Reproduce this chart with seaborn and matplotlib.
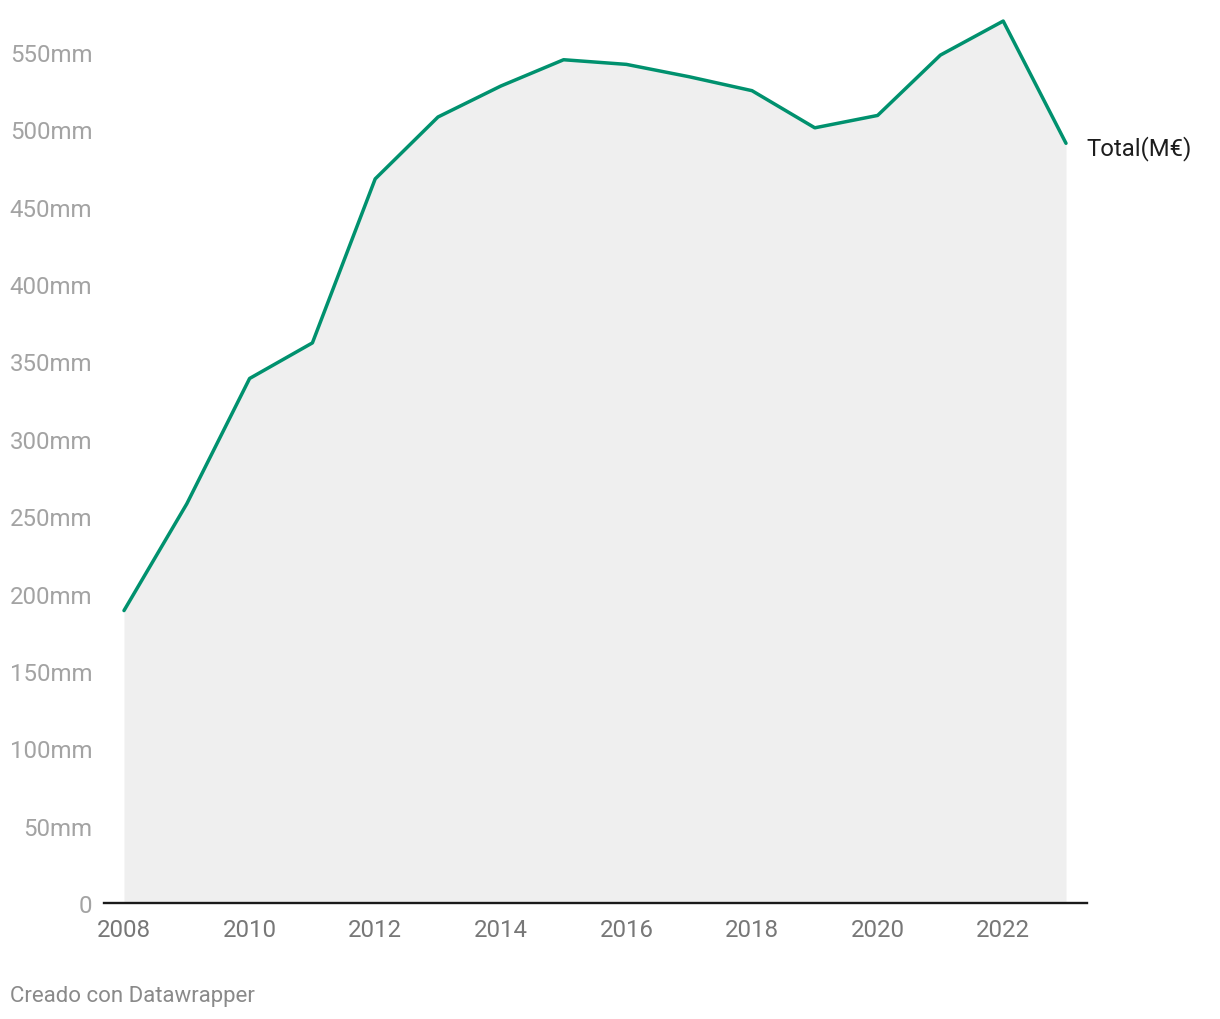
import matplotlib
matplotlib.use("Agg")
import matplotlib.pyplot as plt
import seaborn as sns
import pandas as pd

years = [2008, 2009, 2010, 2011, 2012, 2013, 2014, 2015, 2016, 2017, 2018, 2019, 2020, 2021, 2022, 2023]
total = [189, 258, 339, 362, 468, 508, 528, 545, 542, 534, 525, 501, 509, 548, 570, 491]
series_name = "Total(M€)"
y_ticks = [0, 50, 100, 150, 200, 250, 300, 350, 400, 450, 500, 550]
y_tick_labels = ["0"] + [f"{v}mm" for v in y_ticks[1:]]
x_ticks = [2008, 2010, 2012, 2014, 2016, 2018, 2020, 2022]

df = pd.DataFrame({"year": years, "total": total})

sns.set_theme(style="white")
plt.rcParams["font.family"] = ["Roboto", "DejaVu Sans"]

W, H = 1220, 1020
fig = plt.figure(figsize=(W / 100, H / 100), dpi=100)
left_px, right_px, bottom_px, top_px = 104, 1087, 904, 10
ax = fig.add_axes([left_px / W, 1 - bottom_px / H, (right_px - left_px) / W, (bottom_px - top_px) / H])

line_color = "#00916e"
ax.fill_between(df["year"], 0, df["total"], color="#efefef", linewidth=0, zorder=1)
sns.lineplot(data=df, x="year", y="total", ax=ax, color=line_color, linewidth=2.5, zorder=3)

px_per_year = (1066 - 124) / 15
ax.set_xlim(2008 - (124 - left_px) / px_per_year, 2023 + (right_px - 1066) / px_per_year)
px_per_unit = (904 - 53) / 550
ax.set_ylim(0, (bottom_px - top_px) / px_per_unit)

ax.set_yticks(y_ticks)
ax.set_yticklabels(y_tick_labels)
ax.set_xticks(x_ticks)
ax.set_xticklabels([str(x) for x in x_ticks])
ax.tick_params(axis="y", length=0, pad=8.5, labelsize=17.3, labelcolor="#a3a3a3")
ax.tick_params(axis="x", length=0, pad=11, labelsize=17.3, labelcolor="#777777")
ax.set_xlabel("")
ax.set_ylabel("")

for s in ["top", "right", "left"]:
    ax.spines[s].set_visible(False)
ax.spines["bottom"].set_color("#1a1a1a")
ax.spines["bottom"].set_linewidth(1.7)
ax.spines["bottom"].set_zorder(5)
ax.grid(False)

ax.annotate(series_name, xy=(years[-1], total[-1]), xytext=(20, -4), textcoords="offset pixels",
            ha="left", va="center", fontsize=17.2, color="#1d1d1d", annotation_clip=False)

fig.text(10 / W, 1 - 997 / H, "Creado con Datawrapper", ha="left", va="center", fontsize=16, color="#8a8a8a")

fig.savefig("out.png", dpi=100, facecolor="white")
